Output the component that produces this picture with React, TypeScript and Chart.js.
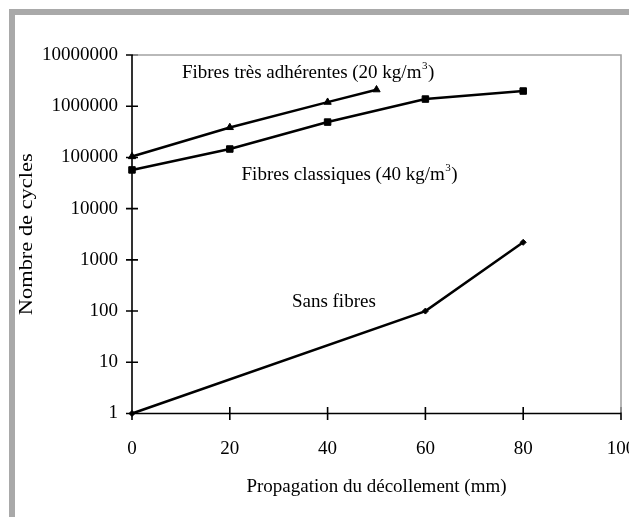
import React, { useEffect, useRef } from "react";
import { Chart, registerables } from "chart.js";

Chart.register(...registerables);

// Propagation du décollement (mm) / nombre de cycles
const adherentesMm = [0, 20, 40, 50];
const adherentesCycles = [104000, 385000, 1200000, 2100000];

const classiquesMm = [0, 20, 40, 60, 80];
const classiquesCycles = [57000, 146000, 490000, 1380000, 1980000];

const sansFibresMm = [0, 60, 80];
const sansFibresCycles = [1, 100, 2200];

const yTickValues = [1, 10, 100, 1000, 10000, 100000, 1000000, 10000000];
const xTickValues = [0, 20, 40, 60, 80, 100];

const xTitle = "Propagation du décollement (mm)";
const yTitle = "Nombre de cycles";

const FONT = '"Liberation Serif", "Times New Roman", Times, serif';
const FONT_SIZE = 19;

type Annot = { mm: number; cycles: number; main: string; sup?: string; tail?: string };

// Series captions, anchored (left edge, middle) in data coordinates
const annotations: Annot[] = [
  { mm: 10.2, cycles: 4450000, main: "Fibres très adhérentes (20 kg/m", sup: "3", tail: ")" },
  { mm: 22.4, cycles: 45800, main: "Fibres classiques (40 kg/m", sup: "3", tail: ")" },
  { mm: 32.7, cycles: 151, main: "Sans fibres" },
];

const pairs = (xs: number[], ys: number[]) => xs.map((x, i) => ({ x, y: ys[i] }));

const decorPlugin = {
  id: "decor",
  beforeDatasetsDraw(chart: any) {
    const { ctx, chartArea: a, scales } = chart;
    const xs = scales.x;
    const ys = scales.y;
    ctx.save();
    // outer frame
    ctx.fillStyle = "#a9a9a9";
    ctx.fillRect(9, 9, chart.width - 9, 6);
    ctx.fillRect(9, 9, 6, chart.height - 9);

    // axes with crossing tick marks
    ctx.strokeStyle = "#000";
    ctx.lineWidth = 1.6;
    ctx.beginPath();
    ctx.moveTo(a.left, a.top);
    ctx.lineTo(a.left, a.bottom);
    ctx.lineTo(a.right, a.bottom);
    for (const v of yTickValues) {
      const y = ys.getPixelForValue(v);
      ctx.moveTo(a.left - 6, y);
      ctx.lineTo(a.left + 6, y);
    }
    for (const v of xTickValues) {
      const x = xs.getPixelForValue(v);
      ctx.moveTo(x, a.bottom - 6.5);
      ctx.lineTo(x, a.bottom + 6.5);
    }
    ctx.stroke();

    // plot area top and right border
    ctx.strokeStyle = "#a3a3a3";
    ctx.lineWidth = 1.6;
    ctx.beginPath();
    ctx.moveTo(a.left + 1, a.top);
    ctx.lineTo(a.right, a.top);
    ctx.lineTo(a.right, a.bottom - 1);
    ctx.stroke();
    ctx.restore();
  },
  afterDatasetsDraw(chart: any) {
    const { ctx, chartArea: a, scales } = chart;
    const xs = scales.x;
    const ys = scales.y;
    ctx.save();
    ctx.fillStyle = "#000";
    ctx.textBaseline = "middle";

    for (const an of annotations) {
      let x = xs.getPixelForValue(an.mm);
      const y = ys.getPixelForValue(an.cycles);
      ctx.font = `${FONT_SIZE}px ${FONT}`;
      ctx.textAlign = "left";
      ctx.fillText(an.main, x, y);
      x += ctx.measureText(an.main).width;
      if (an.sup) {
        ctx.font = `11px ${FONT}`;
        ctx.fillText(an.sup, x + 0.5, y - 7);
        x += ctx.measureText(an.sup).width + 1;
      }
      if (an.tail) {
        ctx.font = `${FONT_SIZE}px ${FONT}`;
        ctx.fillText(an.tail, x, y);
      }
    }

    // axis titles
    ctx.font = `${FONT_SIZE}px ${FONT}`;
    ctx.textAlign = "center";
    ctx.fillText(xTitle, (a.left + a.right) / 2, 487);

    ctx.translate(27, (a.top + a.bottom) / 2);
    ctx.rotate(-Math.PI / 2);
    ctx.scale(1.18, 1);
    ctx.fillText(yTitle, 0, 0);
    ctx.restore();
  },
};

export default function App() {
  const canvasRef = useRef<HTMLCanvasElement | null>(null);

  useEffect(() => {
    const canvas = canvasRef.current;
    if (!canvas) return;
    const lineStyle = {
      borderColor: "#000",
      backgroundColor: "#000",
      pointBorderColor: "#000",
      pointBackgroundColor: "#000",
      borderWidth: 2.5,
      pointBorderWidth: 1,
      tension: 0,
      clip: false as const,
    };
    const chart = new Chart(canvas, {
      type: "line",
      data: {
        datasets: [
          {
            ...lineStyle,
            label: "Fibres très adhérentes (20 kg/m³)",
            data: pairs(adherentesMm, adherentesCycles),
            pointStyle: "triangle",
            pointRadius: 4.2,
          },
          {
            ...lineStyle,
            label: "Fibres classiques (40 kg/m³)",
            data: pairs(classiquesMm, classiquesCycles),
            pointStyle: "rect",
            pointRadius: 4.6,
          },
          {
            ...lineStyle,
            label: "Sans fibres",
            data: pairs(sansFibresMm, sansFibresCycles),
            pointStyle: "rectRot",
            pointRadius: 3,
          },
        ],
      },
      options: {
        animation: false,
        responsive: false,
        maintainAspectRatio: false,
        layout: { padding: { top: 55, right: 8, left: 0, bottom: 0 } },
        plugins: {
          legend: { display: false },
          tooltip: { enabled: false },
        },
        scales: {
          x: {
            type: "linear",
            min: 0,
            max: 100,
            grid: { display: false, drawTicks: false },
            border: { display: false },
            afterBuildTicks: (s: any) => {
              s.ticks = xTickValues.map((value) => ({ value }));
            },
            afterFit: (s: any) => {
              s.height = 103.5;
              s.paddingLeft = 0;
              s.paddingRight = 0;
            },
            ticks: {
              autoSkip: false,
              maxRotation: 0,
              padding: 24,
              color: "#000",
              font: { family: FONT, size: FONT_SIZE },
              callback: (v: any) => String(v),
            },
          },
          y: {
            type: "logarithmic",
            min: 1,
            max: 10000000,
            grid: { display: false, drawTicks: false },
            border: { display: false },
            afterBuildTicks: (s: any) => {
              s.ticks = yTickValues.map((value) => ({ value }));
            },
            afterFit: (s: any) => {
              s.width = 132;
              s.paddingTop = 0;
              s.paddingBottom = 0;
            },
            ticks: {
              autoSkip: false,
              padding: 14,
              color: "#000",
              font: { family: FONT, size: FONT_SIZE },
              callback: (v: any) => String(v),
            },
          },
        },
      },
      plugins: [decorPlugin],
    });
    return () => chart.destroy();
  }, []);

  return (
    <div style={{ position: "absolute", left: 0, top: 0, width: 629, height: 517, background: "#fff" }}>
      <canvas ref={canvasRef} width={629} height={517} style={{ display: "block", width: 629, height: 517 }} />
    </div>
  );
}
